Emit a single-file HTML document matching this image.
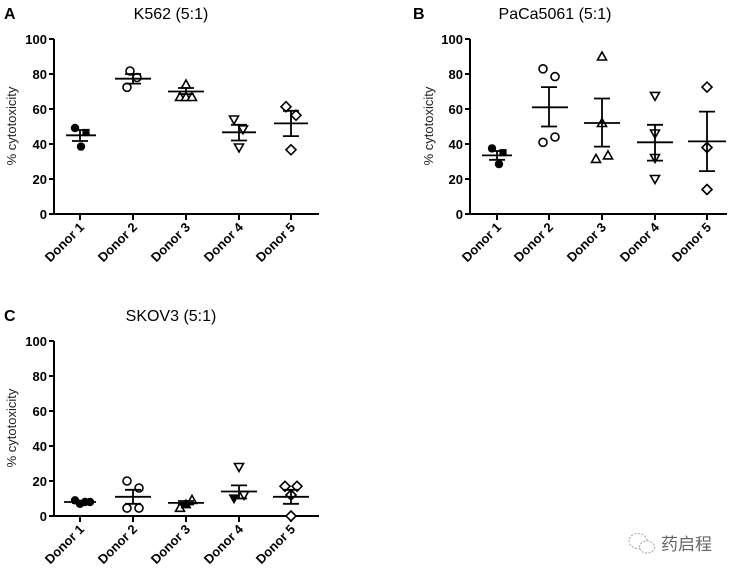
<!DOCTYPE html>
<html><head><meta charset="utf-8"><style>
html,body{margin:0;padding:0;background:#fff;}
svg{display:block;font-family:"Liberation Sans",Arial,sans-serif;}
.tk{font-size:13px;font-weight:bold;text-anchor:end;}
.o{fill:#fff;stroke:#000;stroke-width:1.6;}
.f{fill:#000;stroke:#000;stroke-width:1.2;}
.l{stroke:#000;stroke-width:2;fill:none;}
.e{stroke:#000;stroke-width:1.8;fill:none;}
</style></head><body>
<svg width="739" height="573" viewBox="0 0 739 573">
<rect width="739" height="573" fill="#fff"/>
<!-- titles -->
<text x="4" y="19" font-size="16" font-weight="bold">A</text>
<text x="171" y="19" font-size="16" text-anchor="middle">K562 (5:1)</text>
<text x="413" y="19" font-size="16" font-weight="bold">B</text>
<text x="555" y="19" font-size="16" text-anchor="middle">PaCa5061 (5:1)</text>
<text x="4" y="321" font-size="16" font-weight="bold">C</text>
<text x="171" y="321" font-size="16" text-anchor="middle">SKOV3 (5:1)</text>
<text transform="translate(16,126) rotate(-90)" font-size="13" text-anchor="middle" fill="#222">% cytotoxicity</text>
<text transform="translate(433,126) rotate(-90)" font-size="13" text-anchor="middle" fill="#222">% cytotoxicity</text>
<text transform="translate(16,428) rotate(-90)" font-size="13" text-anchor="middle" fill="#222">% cytotoxicity</text>

<!-- Panel A -->
<g transform="translate(54,39)">
<path class="l" d="M0,0V175H265M-5,0H0M-5,35H0M-5,70H0M-5,105H0M-5,140H0M-5,175H0M26,175v6M79,175v6M132,175v6M185,175v6M237,175v6"/>
<text class="tk" x="-7" y="5">100</text><text class="tk" x="-7" y="40">80</text><text class="tk" x="-7" y="75">60</text><text class="tk" x="-7" y="110">40</text><text class="tk" x="-7" y="145">20</text><text class="tk" x="-7" y="180">0</text>
<text class="tk" transform="translate(31,189) rotate(-45)">Donor 1</text>
<text class="tk" transform="translate(84,189) rotate(-45)">Donor 2</text>
<text class="tk" transform="translate(137,189) rotate(-45)">Donor 3</text>
<text class="tk" transform="translate(190,189) rotate(-45)">Donor 4</text>
<text class="tk" transform="translate(242,189) rotate(-45)">Donor 5</text>
<circle class="f" cx="21" cy="89" r="3.6"/><circle class="f" cx="27" cy="107.6" r="3.6"/><rect class="f" x="29" y="90.5" width="6" height="6"/>
<path class="e" d="M12,96.3H42M18,102H34M18,91H34M26,91V102"/>
<circle class="o" cx="76" cy="32" r="4"/><circle class="o" cx="83" cy="38.5" r="4"/><circle class="o" cx="73" cy="48.3" r="4"/>
<path class="e" d="M61,39.7H97M71,44.6H87M71,35H87M79,35V44.6"/>
<polygon class="o" points="132,41 127.5,49 136.5,49"/><polygon class="o" points="126,53.5 121.5,61.5 130.5,61.5"/><polygon class="o" points="132,53.5 127.5,61.5 136.5,61.5"/><polygon class="o" points="138,53.5 133.5,61.5 142.5,61.5"/>
<path class="e" d="M114,52.5H150M124,55.1H140M124,49H140M132,49V55.1"/>
<polygon class="o" points="180,85 175.5,77 184.5,77"/><polygon class="o" points="189,94.8 184.5,86.8 193.5,86.8"/><polygon class="o" points="185,113 180.5,105 189.5,105"/>
<path class="e" d="M168,93.3H202M177,101.5H193M177,85.8H193M185,85.8V101.5"/>
<polygon class="o" points="232,62.7 237,67.7 232,72.7 227,67.7"/><polygon class="o" points="242,71.3 247,76.3 242,81.3 237,76.3"/><polygon class="o" points="237,105.8 242,110.8 237,115.8 232,110.8"/>
<path class="e" d="M220,84.4H254M229,97.1H245M229,71.8H245M237,71.8V97.1"/>
</g>

<!-- Panel B -->
<g transform="translate(470,39)">
<path class="l" d="M0,0V175H257M-5,0H0M-5,35H0M-5,70H0M-5,105H0M-5,140H0M-5,175H0M27,175v6M79,175v6M132,175v6M185,175v6M237,175v6"/>
<text class="tk" x="-7" y="5">100</text><text class="tk" x="-7" y="40">80</text><text class="tk" x="-7" y="75">60</text><text class="tk" x="-7" y="110">40</text><text class="tk" x="-7" y="145">20</text><text class="tk" x="-7" y="180">0</text>
<text class="tk" transform="translate(32,189) rotate(-45)">Donor 1</text>
<text class="tk" transform="translate(84,189) rotate(-45)">Donor 2</text>
<text class="tk" transform="translate(137,189) rotate(-45)">Donor 3</text>
<text class="tk" transform="translate(190,189) rotate(-45)">Donor 4</text>
<text class="tk" transform="translate(242,189) rotate(-45)">Donor 5</text>
<circle class="f" cx="22" cy="109.4" r="3.6"/><circle class="f" cx="29" cy="125.1" r="3.6"/><rect class="f" x="30" y="110.7" width="6" height="6"/>
<path class="e" d="M12,116.4H42M19,120.8H35M19,112H35M27,112V120.8"/>
<circle class="o" cx="73" cy="29.8" r="4"/><circle class="o" cx="85" cy="37.6" r="4"/><circle class="o" cx="73" cy="103.3" r="4"/><circle class="o" cx="85" cy="98" r="4"/>
<path class="e" d="M62,68.3H98M71,87.5H87M71,48.1H87M79,48.1V87.5"/>
<polygon class="o" points="132,13 127.5,21 136.5,21"/><polygon class="o" points="132,79.5 127.5,87.5 136.5,87.5"/><polygon class="o" points="126,115.4 121.5,123.4 130.5,123.4"/><polygon class="o" points="138,111.9 133.5,119.9 142.5,119.9"/>
<path class="e" d="M114,84H150M124,107.6H140M124,59.5H140M132,59.5V107.6"/>
<polygon class="o" points="185,61.4 180.5,53.4 189.5,53.4"/><polygon class="o" points="185,99 180.5,91 189.5,91"/><polygon class="o" points="185,123.5 180.5,115.5 189.5,115.5"/><polygon class="o" points="185,144.5 180.5,136.5 189.5,136.5"/>
<path class="e" d="M167,103.3H203M177,121.6H193M177,85.8H193M185,85.8V121.6"/>
<polygon class="o" points="237,43.1 242,48.1 237,53.1 232,48.1"/><polygon class="o" points="237,103.5 242,108.5 237,113.5 232,108.5"/><polygon class="o" points="237,145.5 242,150.5 237,155.5 232,150.5"/>
<path class="e" d="M218,102.4H256M229,132.1H245M229,72.6H245M237,72.6V132.1"/>
</g>

<!-- Panel C -->
<g transform="translate(54,341)">
<path class="l" d="M0,0V175H265M-5,0H0M-5,35H0M-5,70H0M-5,105H0M-5,140H0M-5,175H0M26,175v6M79,175v6M132,175v6M185,175v6M237,175v6"/>
<text class="tk" x="-7" y="5">100</text><text class="tk" x="-7" y="40">80</text><text class="tk" x="-7" y="75">60</text><text class="tk" x="-7" y="110">40</text><text class="tk" x="-7" y="145">20</text><text class="tk" x="-7" y="180">0</text>
<text class="tk" transform="translate(31,189) rotate(-45)">Donor 1</text>
<text class="tk" transform="translate(84,189) rotate(-45)">Donor 2</text>
<text class="tk" transform="translate(137,189) rotate(-45)">Donor 3</text>
<text class="tk" transform="translate(190,189) rotate(-45)">Donor 4</text>
<text class="tk" transform="translate(242,189) rotate(-45)">Donor 5</text>
<circle class="f" cx="21" cy="159.3" r="3.6"/><circle class="f" cx="26" cy="162.8" r="3.6"/><circle class="f" cx="31" cy="161" r="3.6"/><circle class="f" cx="36" cy="161" r="3.6"/>
<path class="e" d="M10,161H42M18,162H34M18,160H34"/>
<circle class="o" cx="73" cy="140" r="4"/><circle class="o" cx="85" cy="147" r="4"/><circle class="o" cx="73" cy="167.1" r="4"/><circle class="o" cx="85" cy="167.1" r="4"/>
<path class="e" d="M61,155.8H97M71,162.8H87M71,148.8H87M79,148.8V162.8"/>
<polygon class="o" points="126,162.3 121.5,170.3 130.5,170.3"/><polygon class="f" points="132,158.8 127.5,166.8 136.5,166.8"/><polygon class="o" points="138,154.4 133.5,162.4 142.5,162.4"/>
<path class="e" d="M114,161.9H150M124,163.5H140M124,160H140"/>
<polygon class="o" points="185,130.5 180.5,122.5 189.5,122.5"/><polygon class="f" points="180,162 175.5,154 184.5,154"/><polygon class="o" points="190,158.5 185.5,150.5 194.5,150.5"/>
<path class="e" d="M167,150.5H203M177,157.5H193M177,144.4H193M185,144.4V157.5"/>
<polygon class="o" points="231,140.3 236,145.3 231,150.3 226,145.3"/><polygon class="o" points="243,140.3 248,145.3 243,150.3 238,145.3"/><polygon class="o" points="237,149 242,154 237,159 232,154"/><polygon class="o" points="237,170 242,175 237,180 232,175"/>
<path class="e" d="M219,155.8H255M229,162.8H245M229,148.8H245M237,148.8V162.8"/>
</g>

<!-- watermark -->
<g transform="translate(628,532)" fill="none" stroke="#aaa" stroke-width="1.1" stroke-dasharray="2,1.5">
<ellipse cx="10" cy="9" rx="9" ry="7.5"/><ellipse cx="19" cy="15" rx="7.5" ry="6" fill="#fff"/>
</g>
<text x="661" y="550" font-size="17" fill="#666" font-family="'Liberation Sans','Noto Sans CJK SC',sans-serif">药启程</text>
</svg>
</body></html>
